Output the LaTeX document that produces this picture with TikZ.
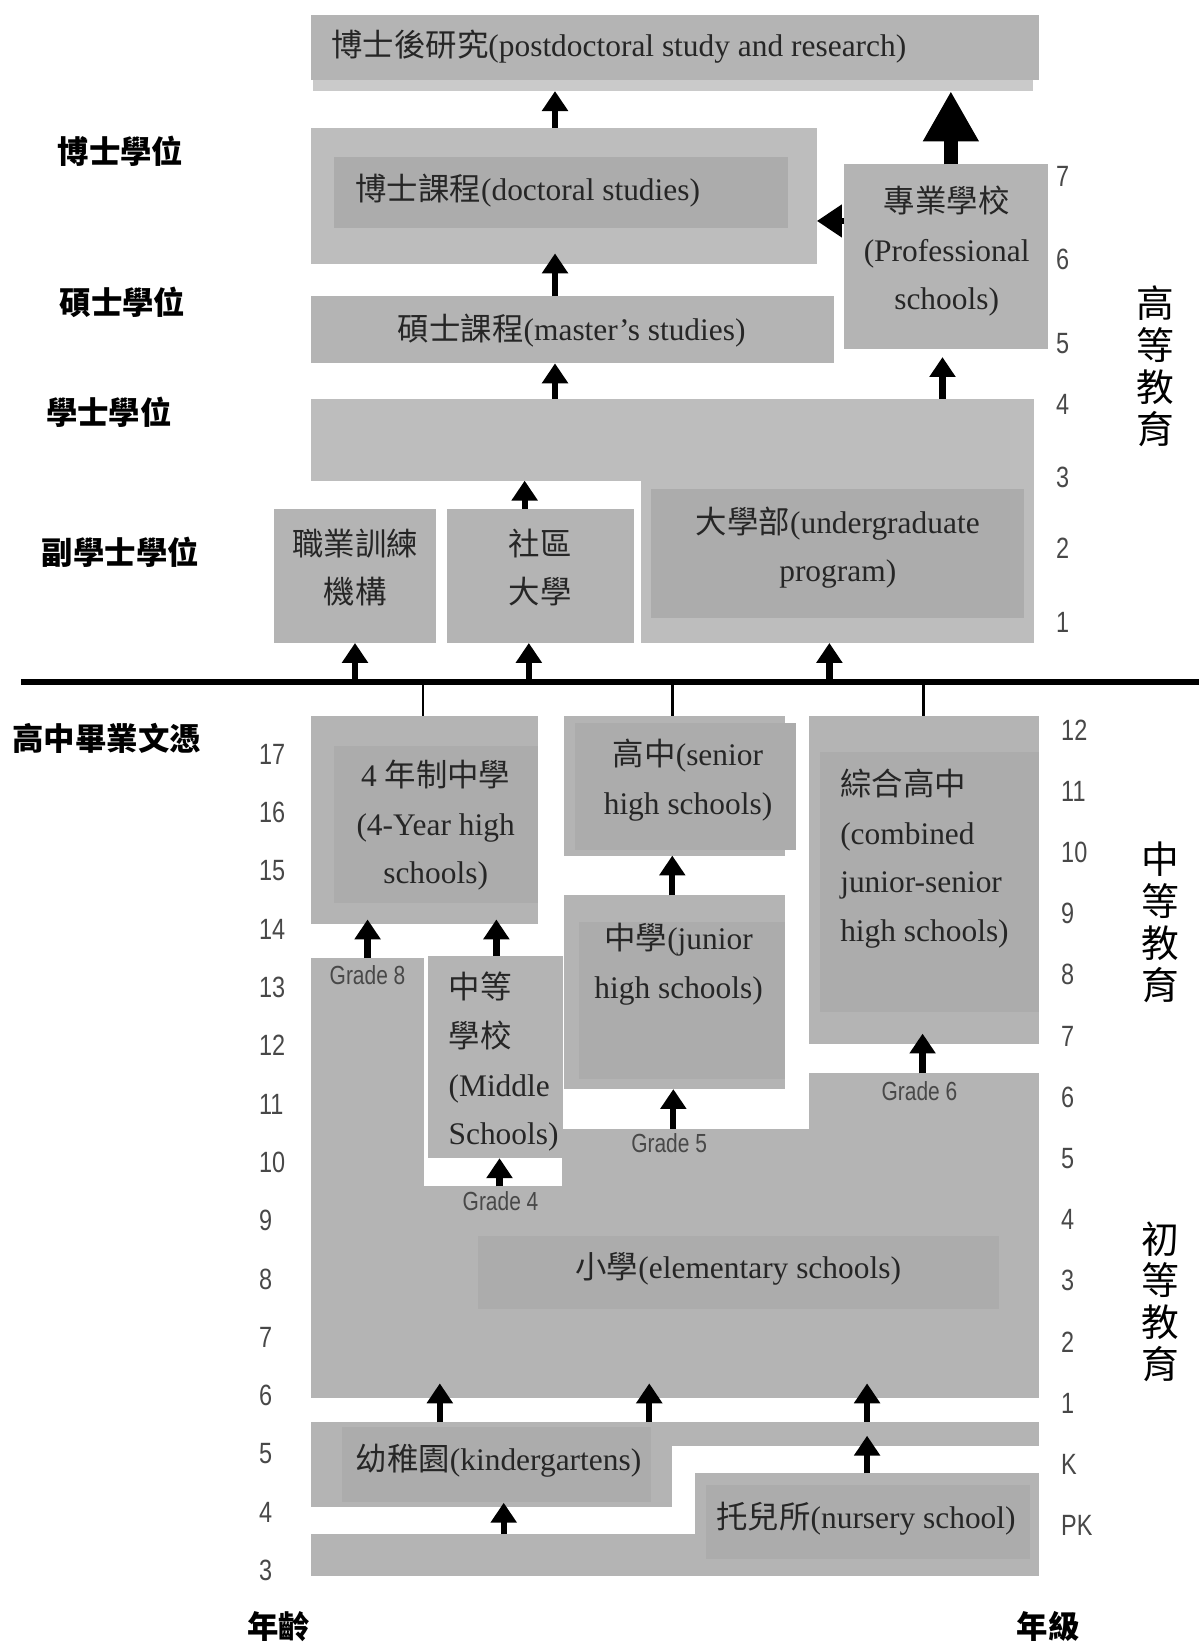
\documentclass[tikz,border=0pt]{standalone}
\usepackage{fontspec}
\setmainfont{Liberation Serif}
\newfontfamily\cjk{Noto Sans CJK TC}
\newfontfamily\numfont[FakeStretch=0.8]{Liberation Sans}
\usepackage{tikz}
\usetikzlibrary{arrows.meta}
\usetikzlibrary{positioning}
\usetikzlibrary{fit}

\definecolor{boxGray}{RGB}{180,180,180}
\definecolor{paleGray}{RGB}{189,189,189}
\definecolor{innerGray}{RGB}{172,172,172}
\definecolor{stripGray}{RGB}{202,202,202}
\definecolor{numGray}{RGB}{72,72,72}

\newcommand{\zh}[1]{{\cjk #1}}
\newcommand{\boxfont}{\fontsize{15}{23.2}\selectfont}
\newcommand{\sidefont}{\cjk\bfseries\fontsize{15}{18}\selectfont}
\newcommand{\levelfont}{\cjk\fontsize{18}{20}\selectfont}
\newcommand{\gradefont}{\numfont\fontsize{12.5}{14}\selectfont}
\newcommand{\agefont}{\numfont\fontsize{14}{16}\selectfont}

\begin{document}
\begin{tikzpicture}[x=0.5pt,y=-0.5pt,
	box/.style={fill=boxGray, inner sep=0pt, outer sep=0pt},
	pale/.style={box, fill=paleGray},
	inbox/.style={box, fill=innerGray},
	txt/.style={font=\boxfont, text=black!85, inner sep=0pt, align=center},
	grade/.style={font=\gradefont, text=numGray, inner sep=0pt},
	num/.style={font=\agefont, text=numGray, inner sep=0pt, anchor=west},
	deg/.style={font=\sidefont, inner sep=0pt},
	lvl/.style={font=\levelfont, align=center, inner sep=0pt},
	blk/.style={line width=3pt, -{Triangle[length=9.5pt,width=12pt]}},
	bigblk/.style={line width=6.5pt, -{Triangle[length=24pt,width=25pt]}},
	lblk/.style={line width=3pt, -{Triangle[length=12pt,width=15pt]}},
	hline/.style={line width=3pt},
	tick/.style={line width=1.2pt}]

	\useasboundingbox (0,0) rectangle (1145,1568);
	\fill[white] (0,0) rectangle (1145,1568);

	% Higher education
	% ----------------
	\node[box, fit={(297,14) (992,76)}] (postdoc) {};
	\node[box, fill=stripGray, fit={(299,76) (986,87)}] (postdoc-sh) {};
	\node[txt, anchor=west] (postdoc-t) at (316,45) {\zh{博士後研究}(postdoctoral study and research)};

	\node[pale, fit={(297,122) (780,252)}] (doc) {};
	\node[inbox, fit={(319,150) (752,218)}] (doc-in) {};
	\node[txt, anchor=west] (doc-t) at (339,182) {\zh{博士課程}(doctoral studies)};

	\node[box, fit={(806,157) (1001,333)}] (prof) {};
	\node[txt] (prof-t) at (904,240) {\zh{專業學校}\\(Professional\\schools)};

	\node[box, fit={(297,283) (796,347)}] (master) {};
	\node[txt] (master-t) at (546,316) {\zh{碩士課程}(master’s studies)};

	\node[pale, fit={(297,381) (987,459)}] (ba) {};
	\node[pale, fit={(612,457) (987,614)}] (ug) {};
	\node[inbox, fit={(622,467) (978,590)}] (ug-in) {};
	\node[txt] (ug-t) at (800,523) {\zh{大學部}(undergraduate\\program)};

	\node[box, fit={(262,486) (416,614)}] (voc) {};
	\node[txt] (voc-t) at (339,542) {\zh{職業訓練}\\\zh{機構}};
	\node[box, fit={(427,486) (605,614)}] (cc) {};
	\node[txt] (cc-t) at (516,542) {\zh{社區}\\\zh{大學}};

	\draw[blk] (doc.north -| 530,0) -- (postdoc-sh.south -| 530,0);
	\draw[bigblk] (prof.north -| 908,0) -- (postdoc-sh.south -| 908,0);
	\draw[lblk] (prof.west |- 0,211) -- (doc.east |- 0,211);
	\draw[blk, shorten >=-5pt] (master.north -| 530,0) -- (doc.south -| 530,0);
	\draw[blk] (ba.north -| 530,0) -- (master.south -| 530,0);
	\draw[blk, shorten >=4pt] (ba.north -| 900,0) -- (prof.south -| 900,0);
	\draw[blk] (cc.north -| 501,0) -- (ba.south -| 501,0);

	% graduation line
	% ---------------
	\coordinate (hl-w) at (20,651);
	\coordinate (hl-e) at (1145,651);
	\draw[hline] (hl-w) -- (hl-e);

	\draw[blk] (hl-w -| voc.south) -- (voc.south);
	\draw[blk] (hl-w -| 505,0) -- (cc.south -| 505,0);
	\draw[blk] (hl-w -| 792,0) -- (ug.south -| 792,0);

	% Secondary education
	% -------------------
	\node[box, fit={(297,684) (514,882)}] (fouryr) {};
	\node[inbox, fit={(319,712) (514,862)}] (fouryr-in) {};
	\node[txt] (fouryr-t) at (416,788) {4 \zh{年制中學}\\(4-Year high\\schools)};

	\node[box, fit={(539,684) (750,817)}] (senior) {};
	\node[inbox, fit={(549,690) (760,812)}] (senior-in) {};
	\node[txt] (senior-t) at (657,745) {\zh{高中}(senior\\high schools)};

	\node[box, fit={(773,684) (992,997)}] (comb) {};
	\node[inbox, fit={(783,718) (992,966)}] (comb-in) {};
	\node[txt, anchor=west, align=left] (comb-t) at (802,820) {\zh{綜合高中}\\(combined\\junior-senior\\high schools)};

	\node[box, fit={(539,855) (750,1040)}] (junior) {};
	\node[inbox, fit={(553,880) (750,1030)}] (junior-in) {};
	\node[txt] (junior-t) at (648,921) {\zh{中學}(junior\\high schools)};

	\node[box, fit={(409,913) (538,1106)}] (midsch) {};
	\node[txt, anchor=west, align=left] (midsch-t) at (428,1014) {\zh{中等}\\\zh{學校}\\(Middle\\Schools)};

	\draw[tick] (hl-w -| 404,0) -- (fouryr.north -| 404,0);
	\draw[tick] (hl-w -| 642,0) -- (senior.north -| 642,0);
	\draw[tick] (hl-w -| 882,0) -- (comb.north -| 882,0);

	% Elementary education
	% --------------------
	\node[box, fit={(297,915) (405,1335)}] (elem-g8) {};
	\node[box, fit={(403,1133) (992,1335)}] (elem) {};
	\node[box, fit={(537,1078) (992,1135)}] (elem-g5) {};
	\node[box, fit={(773,1025) (992,1080)}] (elem-g6) {};
	\node[inbox, fit={(456,1180) (954,1250)}] (elem-in) {};
	\node[txt] (elem-t) at (705,1212) {\zh{小學}(elementary schools)};

	\node[grade] (g8) at (351,931) {Grade 8};
	\node[grade] (g4) at (478,1147) {Grade 4};
	\node[grade] (g5) at (639,1092) {Grade 5};
	\node[grade] (g6) at (878,1042) {Grade 6};

	\draw[blk, shorten >=-2pt] (elem-g8.north -| 351,0) -- (fouryr.south -| 351,0);
	\draw[blk, shorten >=-2pt] (midsch.north -| 474,0) -- (fouryr.south -| 474,0);
	\draw[blk] (junior.north -| 642,0) -- (senior.south -| 642,0);
	\draw[blk] (elem-g5.north -| 643,0) -- (junior.south -| 643,0);
	\draw[blk, shorten >=-5pt] (elem-g6.north -| 881,0) -- (comb.south -| 881,0);
	\draw[blk] (elem.north -| 477,0) -- (midsch.south -| 477,0);

	% Pre-school
	% ----------
	\node[box, fit={(297,1358) (642,1439)}] (kg) {};
	\node[box, fit={(640,1358) (992,1381)}] (kg-r) {};
	\node[inbox, fit={(327,1363) (622,1434)}] (kg-in) {};
	\node[txt] (kg-t) at (476,1395) {\zh{幼稚園}(kindergartens)};

	\node[box, fit={(664,1407) (992,1505)}] (nur) {};
	\node[box, fit={(297,1465) (666,1505)}] (nur-l) {};
	\node[inbox, fit={(674,1418) (984,1489)}] (nur-in) {};
	\node[txt] (nur-t) at (827,1450) {\zh{托兒所}(nursery school)};

	\draw[blk, shorten >=-7pt] (kg.north -| 420,0) -- (elem.south -| 420,0);
	\draw[blk, shorten >=-7pt] (kg.north -| 620,0) -- (elem.south -| 620,0);
	\draw[blk, shorten >=-7pt] (kg-r.north -| 828,0) -- (elem.south -| 828,0);
	\draw[blk, shorten >=-5pt] (nur.north -| 828,0) -- (kg-r.south -| 828,0);
	\draw[blk, shorten >=-2pt] (nur-l.north -| 481,0) -- (kg.south -| 481,0);

	% degrees, ages, grades
	% ---------------------
	\node[deg] (deg-phd) at (115,144) {博士學位};
	\node[deg] (deg-ms) at (117,289) {碩士學位};
	\node[deg] (deg-ba) at (104,394) {學士學位};
	\node[deg] (deg-as) at (115,527) {副學士學位};
	\node[deg] (deg-hs) at (102,705) {高中畢業文憑};

	\foreach \a [count=\i from 0] in {17,16,...,3}
		\node[num] (age-\a) at (247,{720+55.7*\i}) {\a};
	\foreach \g [count=\i from 0] in {12,11,10,9,8,7,6,5,4,3,2,1,K,PK}
		\node[num] (gr-\g) at (1013,{697+58.46*\i}) {\g};
	\foreach \g/\yy in {7/168,6/248,5/328,4/386,3/456,2/524,1/594}
		\node[num] (hi-\g) at (1008,\yy) {\g};

	\node[lvl] (lvl-hi) at (1103,350) {高\\等\\教\\育};
	\node[lvl] (lvl-mid) at (1108,881) {中\\等\\教\\育};
	\node[lvl] (lvl-ele) at (1108,1243) {初\\等\\教\\育};

	\node[deg] (age-title) at (266,1553) {年齡};
	\node[deg] (grade-title) at (1001,1553) {年級};

\end{tikzpicture}
\end{document}
